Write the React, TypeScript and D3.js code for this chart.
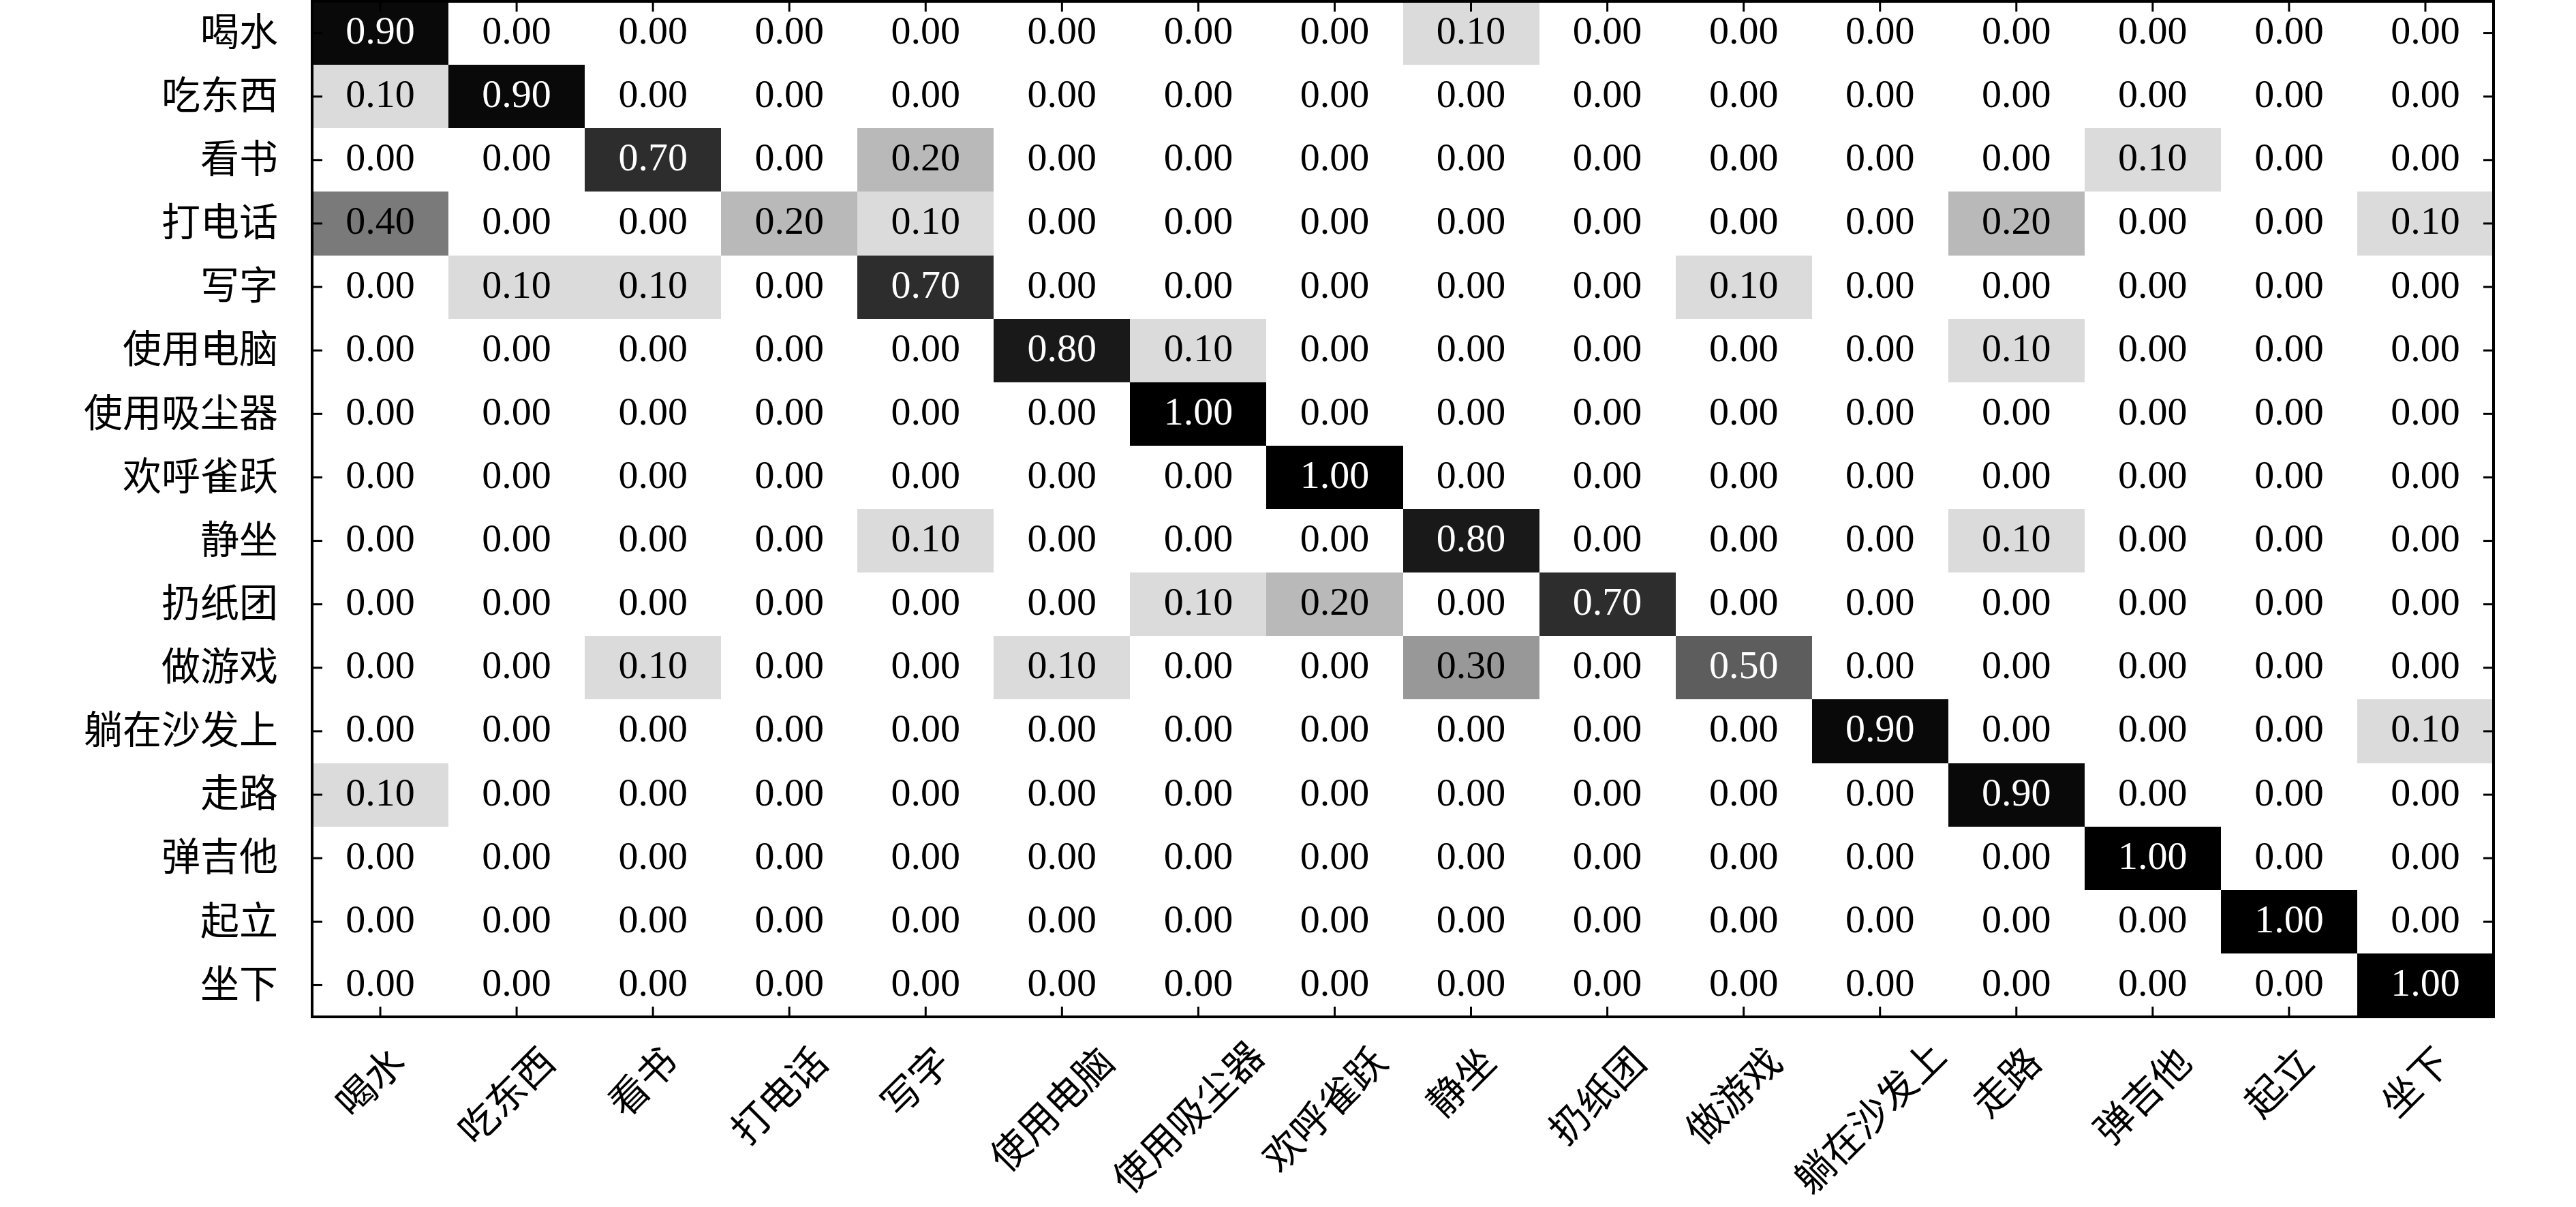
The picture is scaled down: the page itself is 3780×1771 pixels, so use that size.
import React, { useEffect, useRef } from "react";
import * as d3 from "d3";

// activity names (same order for true rows and predicted columns)
const labels = [
  "喝水",
  "吃东西",
  "看书",
  "打电话",
  "写字",
  "使用电脑",
  "使用吸尘器",
  "欢呼雀跃",
  "静坐",
  "扔纸团",
  "做游戏",
  "躺在沙发上",
  "走路",
  "弹吉他",
  "起立",
  "坐下",
];

// one row per true class
const drinkRow = [0.9, 0, 0, 0, 0, 0, 0, 0, 0.1, 0, 0, 0, 0, 0, 0, 0];
const eatRow = [0.1, 0.9, 0, 0, 0, 0, 0, 0, 0, 0, 0, 0, 0, 0, 0, 0];
const readRow = [0, 0, 0.7, 0, 0.2, 0, 0, 0, 0, 0, 0, 0, 0, 0.1, 0, 0];
const phoneRow = [0.4, 0, 0, 0.2, 0.1, 0, 0, 0, 0, 0, 0, 0, 0.2, 0, 0, 0.1];
const writeRow = [0, 0.1, 0.1, 0, 0.7, 0, 0, 0, 0, 0, 0.1, 0, 0, 0, 0, 0];
const computerRow = [0, 0, 0, 0, 0, 0.8, 0.1, 0, 0, 0, 0, 0, 0.1, 0, 0, 0];
const vacuumRow = [0, 0, 0, 0, 0, 0, 1, 0, 0, 0, 0, 0, 0, 0, 0, 0];
const cheerRow = [0, 0, 0, 0, 0, 0, 0, 1, 0, 0, 0, 0, 0, 0, 0, 0];
const sitStillRow = [0, 0, 0, 0, 0.1, 0, 0, 0, 0.8, 0, 0, 0, 0.1, 0, 0, 0];
const throwRow = [0, 0, 0, 0, 0, 0, 0.1, 0.2, 0, 0.7, 0, 0, 0, 0, 0, 0];
const gameRow = [0, 0, 0.1, 0, 0, 0.1, 0, 0, 0.3, 0, 0.5, 0, 0, 0, 0, 0];
const sofaRow = [0, 0, 0, 0, 0, 0, 0, 0, 0, 0, 0, 0.9, 0, 0, 0, 0.1];
const walkRow = [0.1, 0, 0, 0, 0, 0, 0, 0, 0, 0, 0, 0, 0.9, 0, 0, 0];
const guitarRow = [0, 0, 0, 0, 0, 0, 0, 0, 0, 0, 0, 0, 0, 1, 0, 0];
const standRow = [0, 0, 0, 0, 0, 0, 0, 0, 0, 0, 0, 0, 0, 0, 1, 0];
const sitDownRow = [0, 0, 0, 0, 0, 0, 0, 0, 0, 0, 0, 0, 0, 0, 0, 1];

const matrix = [
  drinkRow, eatRow, readRow, phoneRow, writeRow, computerRow, vacuumRow, cheerRow,
  sitStillRow, throwRow, gameRow, sofaRow, walkRow, guitarRow, standRow, sitDownRow,
];

const W = 3780;
const H = 1771;
const CJK = "'Noto Sans CJK SC', sans-serif";
const NUM = "'Liberation Serif', 'DejaVu Serif', serif";

const App = () => {
  const svgRef = useRef<SVGSVGElement>(null);

  useEffect(() => {
    const svg = d3.select(svgRef.current);
    svg.selectAll("*").remove();

    const left = 458, right = 3659, top = 2, bottom = 1492;

    const x = d3.scaleBand().domain(labels).range([left, right]);
    const y = d3.scaleBand().domain(labels).range([top, bottom]);

    // grey shade, darker than a plain linear ramp in the middle
    const shade = (v: number) => {
      const g = Math.round(255 * Math.pow(1 - v, 1.45));
      return d3.rgb(g, g, g).toString();
    };
    const fmt = d3.format(".2f");

    const cells = matrix.flatMap((row, i) =>
      row.map((v, j) => ({ row: labels[i], col: labels[j], v }))
    );

    svg
      .append("g")
      .selectAll("rect")
      .data(cells)
      .join("rect")
      .attr("x", (d) => x(d.col)!)
      .attr("y", (d) => y(d.row)!)
      .attr("width", x.bandwidth() + 0.5)
      .attr("height", y.bandwidth() + 0.5)
      .attr("fill", (d) => shade(d.v))
      .attr("shape-rendering", "crispEdges");

    svg
      .append("g")
      .selectAll("text")
      .data(cells)
      .join("text")
      .attr("x", (d) => x(d.col)! + x.bandwidth() / 2)
      .attr("y", (d) => y(d.row)! + y.bandwidth() / 2 - 4)
      .attr("text-anchor", "middle")
      .attr("dominant-baseline", "central")
      .attr("font-family", NUM)
      .attr("font-size", 58)
      .attr("fill", (d) => (d.v >= 0.5 ? "#fff" : "#000"))
      .text((d) => fmt(d.v));

    // ticks on all four sides, pointing inward
    const tick = 15;
    const styleAxis = (g: any) => {
      g.select(".domain").remove();
      g.selectAll(".tick line").attr("stroke-width", 3);
    };

    svg
      .append("g")
      .attr("transform", `translate(${left},0)`)
      .call(d3.axisLeft(y).tickSizeInner(-tick).tickSizeOuter(0).tickPadding(50))
      .call(styleAxis)
      .call((g: any) =>
        g.selectAll(".tick text").attr("font-family", CJK).attr("font-size", 57).attr("fill", "#000")
      );

    svg
      .append("g")
      .attr("transform", `translate(${right},0)`)
      .call(d3.axisRight(y).tickSizeInner(-tick).tickSizeOuter(0).tickFormat(() => ""))
      .call(styleAxis);

    svg
      .append("g")
      .attr("transform", `translate(0,${top})`)
      .call(d3.axisTop(x).tickSizeInner(-tick).tickSizeOuter(0).tickFormat(() => ""))
      .call(styleAxis);

    svg
      .append("g")
      .attr("transform", `translate(0,${bottom})`)
      .call(d3.axisBottom(x).tickSizeInner(-tick).tickSizeOuter(0).tickFormat(() => ""))
      .call(styleAxis);

    // rotated column labels, top of their box just under the axis,
    // long ones nudged up so the whole line box stays on the page
    const fs = 57;
    const labelTop = 1524;
    svg
      .append("g")
      .selectAll("text")
      .data(labels)
      .join("text")
      .attr("transform", (d) => {
        const L = d.length * fs;
        const cx = x(d)! + x.bandwidth() / 2 - 18;
        const want = labelTop + (L + fs) / (2 * Math.SQRT2);
        const limit = H - 4 - (L + 1.5 * fs) / (2 * Math.SQRT2);
        return `translate(${cx},${Math.min(want, limit)}) rotate(-45)`;
      })
      .attr("text-anchor", "middle")
      .attr("dominant-baseline", "central")
      .attr("font-family", CJK)
      .attr("font-size", fs)
      .text((d) => d);

    // frame
    svg
      .append("rect")
      .attr("x", left)
      .attr("y", top)
      .attr("width", right - left)
      .attr("height", bottom - top)
      .attr("fill", "none")
      .attr("stroke", "#000")
      .attr("stroke-width", 4);
  }, []);

  return (
    <svg
      ref={svgRef}
      width={W}
      height={H}
      style={{ position: "absolute", left: 0, top: 0, background: "#fff" }}
    ></svg>
  );
};

export default App;
